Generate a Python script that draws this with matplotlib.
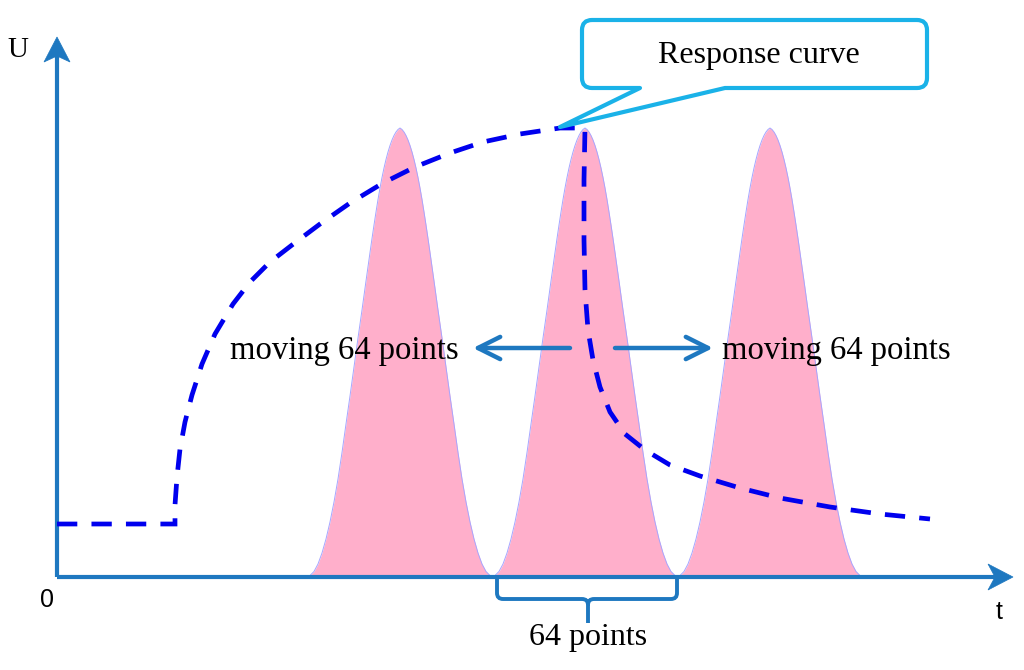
import matplotlib
matplotlib.use("Agg")
import matplotlib.pyplot as plt
from matplotlib.path import Path
from matplotlib.patches import PathPatch, Polygon
import numpy as np

# ---------------- data (t, U in diagram units; origin at axes corner) ----------------
# response curve (dashed)
resp_t = [0, 118, 118, 120, 123, 128, 135, 145, 158, 176, 193, 213, 235, 263, 293, 326,
          358, 393, 426, 463, 503, 528,
          527, 527, 528, 531, 536, 543, 553, 568, 588, 613, 643, 683, 723, 773, 823, 873]
resp_U = [53, 53, 72, 100, 128, 155, 182, 213, 243, 273, 295, 315, 332, 353, 374, 394,
          410, 424, 435, 443, 449, 449,
          397, 337, 287, 247, 217, 190, 165, 143, 127, 112, 101, 89, 79, 70, 63, 58]

# window (peak) profile: half-width offset vs height
peak_dt = [0, 2, 4, 6, 8, 10, 12, 14, 16, 18, 20, 22, 24, 26, 28, 30,
           34, 38, 42, 46, 50, 54, 58, 62, 66, 70, 74, 78, 82, 86, 90, 94]
peak_U = [449, 447.5, 445, 441.5, 437, 431.5, 425, 417.5, 409, 399.5, 389, 377.5,
          365, 352, 338.5, 324.5, 296, 267, 239, 210, 181, 153, 124.5,
          98, 75, 55, 38, 24, 13, 5.5, 1.5, 0]
peak_centers = [343, 528, 713]

window_left, window_right = 440, 620   # "64 points" bracket ends
label_window = "64 points"
label_move = "moving 64 points"
label_resp = "Response curve"

AX_BLUE = "#1E78C0"
CURVE_BLUE = "#0000EE"
CYAN = "#1AB2E8"
PINK = "#FFAFCB"

fig = plt.figure(figsize=(10.24, 6.7), dpi=100)
ax = fig.add_axes([0, 0, 1, 1])
ax.set_xlim(-57, 967)
ax.set_ylim(-93, 577)
ax.axis("off")

# ---------------- peaks ----------------
dt = np.array(peak_dt, dtype=float)
pu = np.array(peak_U, dtype=float)
for c in peak_centers:
    xs = np.concatenate([c - dt[::-1], c + dt[1:]])
    ys = np.concatenate([pu[::-1], pu[1:]])
    ax.fill_between(xs, ys, 0, color=PINK, lw=0, zorder=1)
    ax.plot(xs, ys, color="#A6A6FF", lw=0.7, zorder=1.5)

# ---------------- axes with arrows ----------------
ax.plot([0, 945], [0, 0], color=AX_BLUE, lw=3.0, solid_capstyle="butt", zorder=2)
ax.plot([0, 0], [0, 528], color=AX_BLUE, lw=3.0, solid_capstyle="butt", zorder=2)
ax.add_patch(Polygon([[956, 0], [931, 13], [938, 0], [931, -13]], closed=True,
                     fc=AX_BLUE, ec=AX_BLUE, lw=0.5, zorder=2))
ax.add_patch(Polygon([[0, 540], [-13, 515], [0, 521], [13, 515]], closed=True,
                     fc=AX_BLUE, ec=AX_BLUE, lw=0.5, zorder=2))

ax.text(-39, 527, "U", family="Liberation Serif", fontsize=21, ha="center", va="center")
ax.text(-10, -23, "0", family="Liberation Sans", fontsize=18, ha="center", va="center")
ax.text(942, -35, "t", family="Liberation Sans", fontsize=18, ha="center", va="center")

# ---------------- response curve ----------------
ax.plot(resp_t, resp_U, color=CURVE_BLUE, lw=3.4, dashes=(4.3, 3.0),
        solid_joinstyle="miter", dash_joinstyle="miter", zorder=3)

# ---------------- moving arrows ----------------
arrow_kw = dict(arrowstyle="->,head_length=1.6,head_width=0.8", color=AX_BLUE, lw=3.2,
                shrinkA=0, shrinkB=0)
ax.annotate("", xy=(416, 229), xytext=(513, 229), arrowprops=arrow_kw, zorder=4)
ax.annotate("", xy=(656, 229), xytext=(558, 229), arrowprops=arrow_kw, zorder=4)
ax.text(287, 226, label_move, family="Liberation Serif", fontsize=23.5,
        ha="center", va="center", zorder=5)
ax.text(779, 226, label_move, family="Liberation Serif", fontsize=23.5,
        ha="center", va="center", zorder=5)

# ---------------- bracket ----------------
mid = (window_left + window_right) / 2 + 1
yb, ys_ = -22, -46
r = 6
verts = [(window_left, 0), (window_left, yb + r), (window_left, yb), (window_left + r, yb),
         (mid - r, yb), (mid, yb), (mid, yb - r), (mid, ys_),
         (window_right, 0), (window_right, yb + r), (window_right, yb), (window_right - r, yb),
         (mid + r, yb), (mid, yb), (mid, yb - r)]
codes = [Path.MOVETO, Path.LINETO, Path.CURVE3, Path.CURVE3,
         Path.LINETO, Path.CURVE3, Path.CURVE3, Path.LINETO,
         Path.MOVETO, Path.LINETO, Path.CURVE3, Path.CURVE3,
         Path.LINETO, Path.CURVE3, Path.CURVE3]
ax.add_patch(PathPatch(Path(verts, codes), fc="none", ec=AX_BLUE, lw=2.8,
                       capstyle="butt", zorder=2))
ax.text(mid, -60, label_window, family="Liberation Serif", fontsize=23,
        ha="center", va="center")

# ---------------- callout ----------------
x0, x1, y0, y1 = 525, 870, 489, 557
rr = 10
tip = (503, 450)
tail_a, tail_b = 583, 668
cv = [(x0 + rr, y1), (x1 - rr, y1), (x1, y1), (x1, y1 - rr),
      (x1, y0 + rr), (x1, y0), (x1 - rr, y0),
      (tail_b, y0), tip, (tail_a, y0),
      (x0 + rr, y0), (x0, y0), (x0, y0 + rr),
      (x0, y1 - rr), (x0, y1), (x0 + rr, y1), (x0 + rr, y1)]
cc = [Path.MOVETO, Path.LINETO, Path.CURVE3, Path.CURVE3,
      Path.LINETO, Path.CURVE3, Path.CURVE3,
      Path.LINETO, Path.LINETO, Path.LINETO,
      Path.LINETO, Path.CURVE3, Path.CURVE3,
      Path.LINETO, Path.CURVE3, Path.CURVE3, Path.CLOSEPOLY]
ax.add_patch(PathPatch(Path(cv, cc), fc="white", ec=CYAN, lw=3.0,
                       joinstyle="round", zorder=6))
ax.text((x0 + x1) / 2 + 4, 522, label_resp, family="Liberation Serif", fontsize=23,
        ha="center", va="center", zorder=7)

fig.savefig("out.png", dpi=100)
